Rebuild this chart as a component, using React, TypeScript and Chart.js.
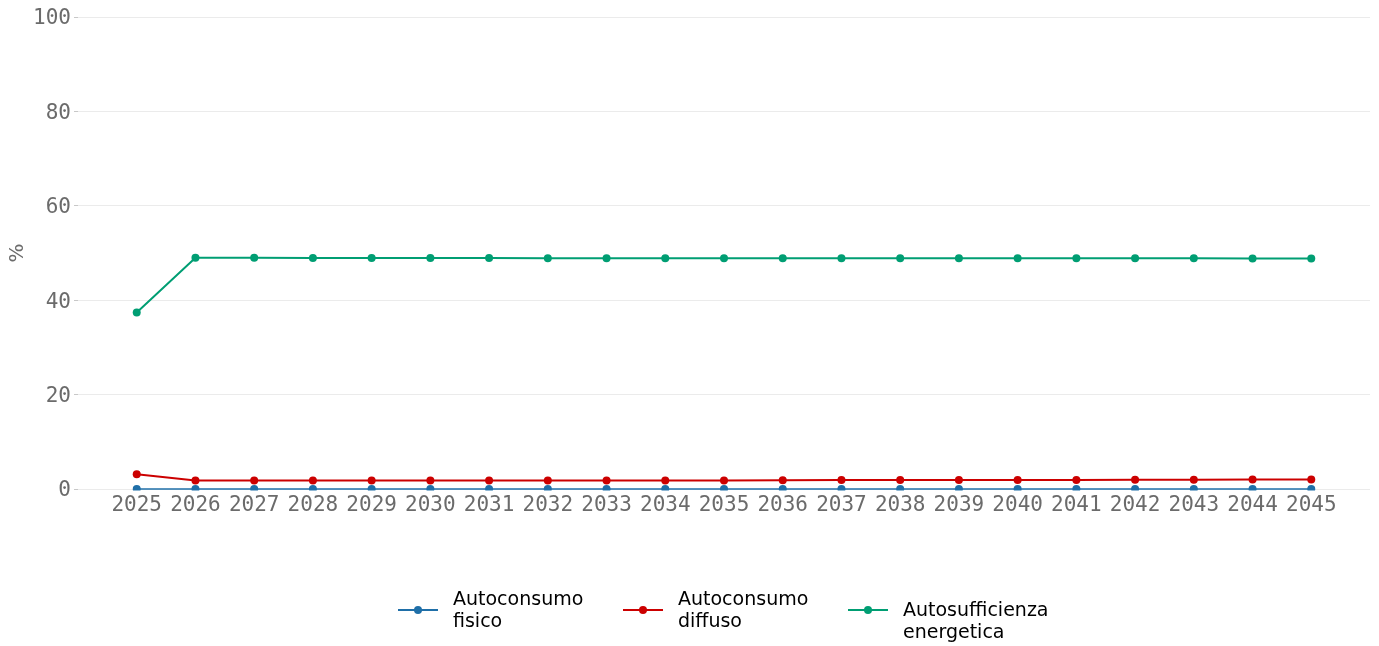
import React, { useEffect, useRef } from "react";
import { Chart, registerables } from "chart.js";

Chart.register(...registerables);

const years = [2025, 2026, 2027, 2028, 2029, 2030, 2031, 2032, 2033, 2034, 2035, 2036, 2037, 2038, 2039, 2040, 2041, 2042, 2043, 2044, 2045];
const autoconsumoFisico = [0, 0, 0, 0, 0, 0, 0, 0, 0, 0, 0, 0, 0, 0, 0, 0, 0, 0, 0, 0, 0];
const autoconsumoDiffuso = [3.1, 1.8, 1.8, 1.8, 1.8, 1.8, 1.8, 1.8, 1.8, 1.8, 1.8, 1.85, 1.9, 1.9, 1.9, 1.9, 1.9, 1.95, 1.95, 2.0, 2.0];
const autosufficienza = [37.4, 49.0, 49.0, 48.95, 48.95, 48.95, 48.95, 48.9, 48.9, 48.9, 48.9, 48.9, 48.9, 48.9, 48.9, 48.9, 48.9, 48.9, 48.9, 48.85, 48.85];
const yTicks = [0, 20, 40, 60, 80, 100];

const seriesNames = [["Autoconsumo", "fisico"], ["Autoconsumo", "diffuso"], ["Autosufficienza", "energetica"]];
const seriesColors = ["#1f6fa8", "#cc0000", "#009e73"];

export default function App() {
  const canvasRef = useRef<HTMLCanvasElement | null>(null);

  useEffect(() => {
    document.body.style.margin = "0";
    const ctx = canvasRef.current;
    if (!ctx) return;
    const seriesData = [autoconsumoFisico, autoconsumoDiffuso, autosufficienza];
    const chart = new Chart(ctx, {
      type: "line",
      data: {
        datasets: seriesData.map((vals, i) => ({
          label: seriesNames[i].join(" "),
          data: vals.map((v, j) => ({ x: years[j], y: v })),
          borderColor: seriesColors[i],
          backgroundColor: seriesColors[i],
          borderWidth: i === 0 ? 1.5 : 2,
          pointRadius: 4,
          pointBorderWidth: 0,
          pointHoverRadius: 4,
          tension: 0,
          clip: { left: 10, right: 10, top: 10, bottom: 1.5 },
        })),
      },
      options: {
        animation: false,
        responsive: false,
        maintainAspectRatio: false,
        layout: { padding: { left: 0, top: 17, right: 9, bottom: 117 } },
        plugins: { legend: { display: false }, tooltip: { enabled: false } },
        scales: {
          x: {
            type: "linear",
            min: 2024,
            max: 2046,
            afterBuildTicks: (scale: any) => {
              scale.ticks = years.map((y) => ({ value: y }));
            },
            afterFit: (scale: any) => {
              scale.height = 40;
            },
            ticks: {
              stepSize: 1,
              autoSkip: false,
              maxRotation: 0,
              padding: 4,
              color: "#6b6b6b",
              font: { family: "DejaVu Sans Mono", size: 21 },
              callback: (v: any) => String(v),
            },
            grid: { display: false, drawTicks: false },
            border: { display: false },
          },
          y: {
            min: 0,
            max: 100,
            afterBuildTicks: (scale: any) => {
              scale.ticks = yTicks.map((v) => ({ value: v }));
            },
            afterFit: (scale: any) => {
              scale.width = 78;
            },
            title: {
              display: true,
              text: "%",
              color: "#6b6b6b",
              font: { family: "DejaVu Sans", size: 20 },
              padding: { top: 6, bottom: 0 },
            },
            ticks: {
              padding: 3,
              labelOffset: 2,
              color: "#6b6b6b",
              font: { family: "DejaVu Sans Mono", size: 21 },
            },
            grid: {
              color: "#ebebeb",
              tickColor: "#c8c8c8",
              tickLength: 4,
              lineWidth: 1,
            },
            border: { display: false },
          },
        },
      },
    });
    return () => chart.destroy();
  }, []);

  const legendX = [398, 623, 848];
  const legendTextTop = [587, 587, 598];

  return (
    <div style={{ position: "relative", width: 1379, height: 646, background: "#fff" }}>
      <canvas ref={canvasRef} width={1379} height={646} style={{ position: "absolute", left: 0, top: 0 }} />
      {seriesNames.map((name, i) => (
        <div key={i}>
          <div style={{ position: "absolute", left: legendX[i], top: 609, width: 40, height: 2, background: seriesColors[i] }} />
          <div style={{ position: "absolute", left: legendX[i] + 16, top: 606, width: 8, height: 8, borderRadius: 4, background: seriesColors[i] }} />
          <div
            style={{
              position: "absolute",
              left: legendX[i] + 55,
              top: legendTextTop[i],
              fontFamily: "DejaVu Sans",
              fontSize: 19,
              lineHeight: "22px",
              color: "#000",
              whiteSpace: "nowrap",
            }}
          >
            {name[0]}
            <br />
            {name[1]}
          </div>
        </div>
      ))}
    </div>
  );
}
